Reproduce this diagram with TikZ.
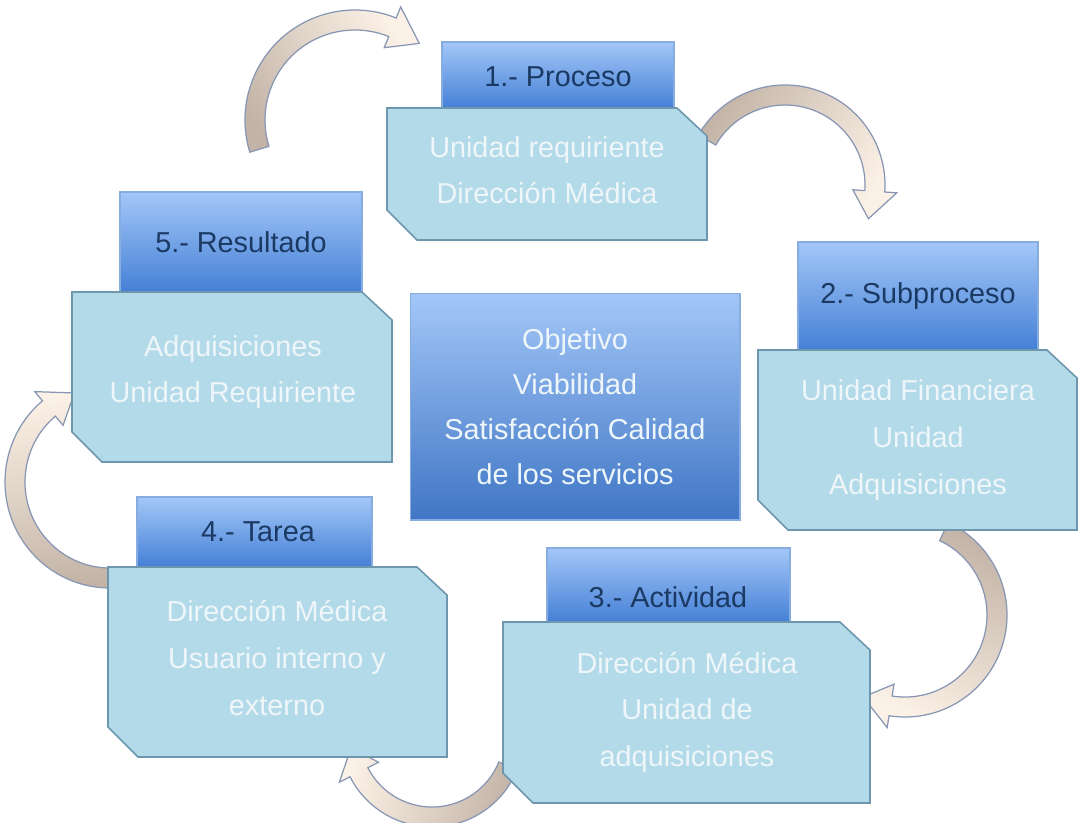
\documentclass[tikz,border=0pt]{standalone}
\usepackage{fontspec}
\setmainfont{Liberation Sans}
\usetikzlibrary{calc}

\definecolor{headTop}{HTML}{A3C7F8}
\definecolor{headBot}{HTML}{4580D6}
\definecolor{headLine}{HTML}{86ACE0}
\definecolor{headInk}{HTML}{1B3A63}
\definecolor{cardFill}{HTML}{B3DAE8}
\definecolor{cardLine}{HTML}{6E97AE}
\definecolor{cardInk}{HTML}{EEF6FA}
\definecolor{arrowTail}{HTML}{C2B3A6}
\definecolor{arrowHead}{HTML}{FCF1E6}
\definecolor{arrowLine}{HTML}{8696B3}

\tikzset{
  headbox/.style={draw=headLine, line width=0.6pt, top color=headTop, bottom color=headBot},
  corebox/.style={draw=headLine, line width=0.6pt, top color=headTop, bottom color=headBot!92!black,
                  text=cardInk, align=center, font=\fontsize{16.4}{25.5}\selectfont},
  cardbox/.style={draw=cardLine, line width=0.9pt, fill=cardFill},
  headtext/.style={text=headInk, font=\fontsize{16.4}{20}\selectfont, inner sep=0pt},
  cardtext/.style={text=cardInk, align=center, font=\fontsize{16.4}{26.5}\selectfont, inner sep=0pt},
  bendfill/.style={draw=arrowLine, line width=0.7pt, top color=arrowHead, bottom color=arrowTail},
}

%% chamfered card: left, top, right, bottom (pixels, y downwards)
\def\cut{30}
\newcommand{\cardbody}[4]{%
  \draw[cardbox] (#1,-#2) -- ({#3-\cut},-#2) -- (#3,{-#2-\cut+2}) -- (#3,-#4)
        -- ({#1+\cut},-#4) -- (#1,{-#4+\cut}) -- cycle;
}

%% curved block arrow: centre, x radius, y radius, start, neck, tip, width, shading angle
\newcommand{\bendarrow}[8]{%
  \pgfmathsetmacro\bxo{#2+#7/2}\pgfmathsetmacro\byo{#3+#7/2}
  \pgfmathsetmacro\bxi{#2-#7/2}\pgfmathsetmacro\byi{#3-#7/2}
  \pgfmathsetmacro\hxo{#2+#7*1.1}\pgfmathsetmacro\hyo{#3+#7*1.1}
  \pgfmathsetmacro\hxi{#2-#7*1.1}\pgfmathsetmacro\hyi{#3-#7*1.1}
  \path[bendfill, shading angle=#8]
     ($(#1)+({\bxo*cos(#4)},{\byo*sin(#4)})$)
       arc[start angle=#4, end angle=#5, x radius=\bxo, y radius=\byo]
     -- ($(#1)+({\hxo*cos(#5)},{\hyo*sin(#5)})$)
     -- ($(#1)+({#2*cos(#6)},{#3*sin(#6)})$)
     -- ($(#1)+({\hxi*cos(#5)},{\hyi*sin(#5)})$)
     -- ($(#1)+({\bxi*cos(#5)},{\byi*sin(#5)})$)
       arc[start angle=#5, end angle=#4, x radius=\bxi, y radius=\byi]
     -- cycle;
}

\begin{document}
\begin{tikzpicture}[x=0.02cm, y=0.02cm]

\useasboundingbox (0,0) rectangle (1079,-822);

 %% arrow centres
\coordinate (c51) at (355,-120);
\coordinate (c12) at (785,-185);
\coordinate (c23) at (905,-615);
\coordinate (c34) at (432,-735);
\coordinate (c45) at (110,-482);

\bendarrow{c51}{100}{100}{197}{68}{50}{20}{-57}
\bendarrow{c12}{90}{90}{150}{-4}{-22}{20}{-121}
\bendarrow{c23}{92}{92}{65}{-99}{-117}{20}{152}
\bendarrow{c34}{82}{82}{-22}{-153}{-171}{20}{77}
\bendarrow{c45}{95}{96}{275}{130}{112}{20}{8}

 %% ***1.- Proceso***
\path[headbox] (442,-42) rectangle (674,-108);
\cardbody{387}{108}{707}{240}
\node[headtext] (proc) at (558,-77) {1.- Proceso};
\node[cardtext] (proctxt) at (547,-170) {Unidad requiriente\\Dirección Médica};

 %% ***2.- Subproceso***
\path[headbox] (798,-242) rectangle (1038,-350);
\cardbody{758}{350}{1077}{530}
\node[headtext] (subp) at (918,-296) {2.- Subproceso};
\node[cardtext] (subptxt) at (918,-440) {Unidad Financiera\\Unidad\\Adquisiciones};

 %% ***3.- Actividad***
\path[headbox] (547,-548) rectangle (790,-622);
\cardbody{503}{622}{870}{803}
\node[headtext] (activ) at (668,-597) {3.- Actividad};
\node[cardtext] (activtxt) at (687,-712) {Dirección Médica\\Unidad de\\adquisiciones};

 %% ***4.- Tarea***
\path[headbox] (137,-497) rectangle (372,-567);
\cardbody{108}{567}{447}{757}
\node[headtext] (tarea) at (258,-532) {4.- Tarea};
\node[cardtext] (tareatxt) at (277,-658) {Dirección Médica\\Usuario interno y\\externo};

 %% ***5.- Resultado***
\path[headbox] (120,-192) rectangle (362,-292);
\cardbody{72}{292}{392}{462}
\node[headtext] (result) at (241,-242) {5.- Resultado};
\node[cardtext] (resulttxt) at (233,-372) {Adquisiciones\\Unidad Requiriente};

 %% centre box
\node[corebox, minimum width=6.6cm, minimum height=4.54cm] (core) at (575,-406.5)
   {Objetivo\\Viabilidad\\Satisfacción Calidad\\de los servicios};

\end{tikzpicture}
\end{document}
